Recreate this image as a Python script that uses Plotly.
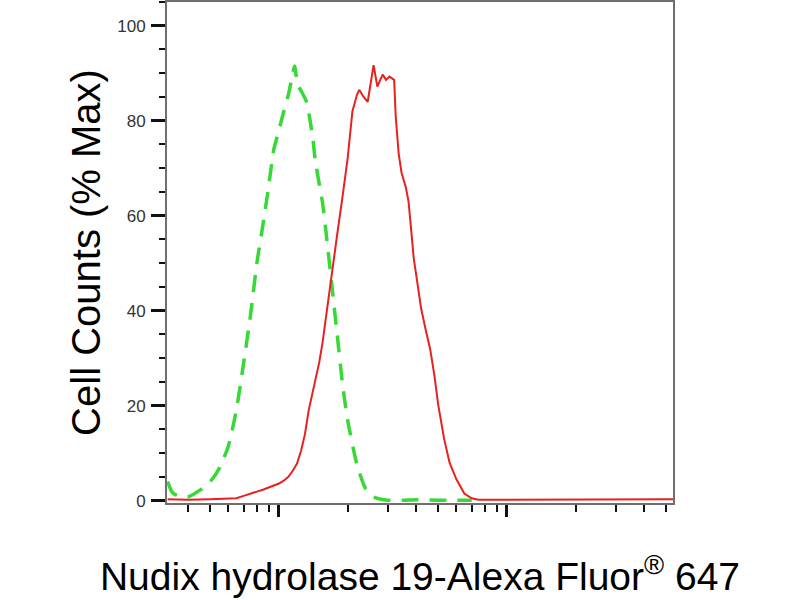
import plotly.graph_objects as go

# Isotype control (green dashed): fluorescence intensity vs % max
green_x = [325, 340, 360, 400, 450, 500, 550, 600, 650, 700, 750, 800, 850, 900, 950,
           1000, 1050, 1100, 1150, 1170, 1210, 1260, 1320, 1370, 1410, 1440, 1510, 1550,
           1600, 1700, 1800, 1900, 2000, 2200, 2400, 2600, 2800, 3000, 3500, 4000, 5000,
           6000, 7000]
green_y = [4.0, 1.8, 1.0, 0.8, 2.2, 4.0, 7.0, 11.5, 19, 29, 39, 50, 58, 66, 74,
           78, 82, 85.5, 90, 91.5, 87.5, 86, 84, 80, 76, 72, 66, 63,
           57.5, 46, 35, 24.5, 17, 7.5, 2.5, 0.8, 0.3, 0.1, 0.1, 0.2, 0.1,
           0.1, 0.1]

# Nudix hydrolase 19 stained sample (red solid)
red_x = [325, 400, 500, 600, 650, 700, 750, 800, 850, 900, 950, 1000, 1050, 1100, 1150,
         1200, 1250, 1300, 1350, 1400, 1450, 1500, 1550, 1600, 1650, 1700, 1750, 1800,
         1900, 2000, 2100, 2200, 2250, 2350, 2450, 2600, 2700, 2850, 2950, 3050, 3200,
         3250, 3350, 3450, 3600, 3700, 3800, 3900, 4000, 4200, 4400, 4600, 4800, 5000,
         5300, 5600, 6000, 6500, 7000, 7500, 10000, 20000, 54000]
red_y = [0.3, 0.2, 0.3, 0.4, 0.5, 1.0, 1.4, 1.9, 2.3, 2.7, 3.1, 3.6, 4.2, 5.0, 6.3,
         7.8, 10.5, 14, 19, 22.5, 25.5, 29, 33, 38, 43, 48, 52, 56,
         64, 72, 82, 85.5, 86.5, 85, 84, 91.7, 87.2, 89.7, 88.6, 89.3, 88.6,
         81, 73, 69, 66, 63, 57, 51, 47.5, 40.5, 36, 32, 26.5, 20,
         13, 8, 4.5, 1.5, 0.5, 0.2, 0.2, 0.3, 0.3]

y_ticks = [0, 20, 40, 60, 80, 100]
y_ticktext = ["0", "20", "40", "60", "80", "100"]
x_major = [1000, 10000]
x_minor = [400, 500, 600, 700, 800, 900,
           2000, 3000, 4000, 5000, 6000, 7000, 8000, 9000,
           20000, 30000, 40000, 50000]

fig = go.Figure()
fig.add_trace(go.Scatter(x=green_x, y=green_y, mode="lines",
                         line=dict(color="#36d936", width=3.5, dash="17px,11px",
                                   shape="spline", smoothing=0.6),
                         showlegend=False))
fig.add_trace(go.Scatter(x=red_x, y=red_y, mode="lines",
                         line=dict(color="#e8201e", width=2),
                         showlegend=False))

fig.update_layout(
    width=800, height=600,
    margin=dict(l=167, r=127, t=0, b=97),
    paper_bgcolor="white", plot_bgcolor="white",
    font=dict(family="Liberation Sans, Arial, sans-serif", color="black"),
    xaxis=dict(
        type="log", range=[2.509, 4.728],
        showline=True, linecolor="#6e6e6e", linewidth=2, mirror=True,
        showgrid=False, zeroline=False,
        ticks="outside", tickmode="array", tickvals=x_major,
        ticklen=12, tickwidth=3, tickcolor="#111",
        showticklabels=False,
        minor=dict(ticks="outside", tickmode="array", tickvals=x_minor,
                   ticklen=7, tickwidth=1.5, tickcolor="#111", showgrid=False),
        title=dict(text="Nudix hydrolase 19-Alexa Fluor<sup>®</sup> 647",
                   font=dict(size=39, color="black"), standoff=47),
    ),
    yaxis=dict(
        range=[-0.5, 105],
        showline=True, linecolor="#6e6e6e", linewidth=2, mirror=True,
        showgrid=False, zeroline=False,
        ticks="outside", tickmode="array", tickvals=y_ticks, ticktext=y_ticktext,
        ticklen=14, tickwidth=3, tickcolor="#111",
        tickfont=dict(family="Liberation Sans Narrow, Liberation Sans, Arial",
                      size=17, color="#333"),
        ticklabelstandoff=2,
        minor=dict(ticks="outside", dtick=5, ticklen=6, tickwidth=1.5,
                   tickcolor="#111", showgrid=False),
        title=dict(text="Cell Counts (% Max)", font=dict(size=40, color="black"),
                   standoff=4),
    ),
)

fig.write_html("out.html", config={"displayModeBar": False},
               post_script="document.body.style.margin='0px';")
